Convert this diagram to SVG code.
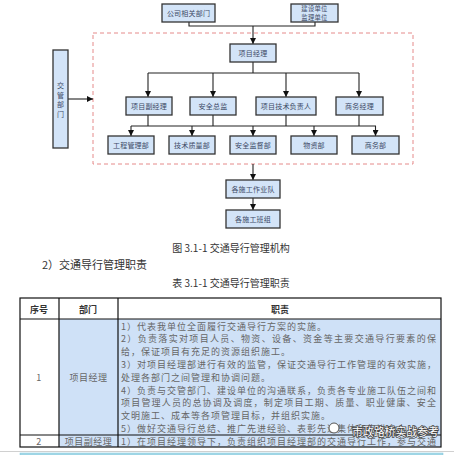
<svg xmlns="http://www.w3.org/2000/svg" width="454" height="455" viewBox="0 0 454 455">
<style>
.box{fill:#d3e4f8;stroke:#333;stroke-width:1.3}
.bt{font-family:"Noto Sans CJK SC",sans-serif;font-size:7px;fill:#3c4a66;text-anchor:middle;dominant-baseline:central;letter-spacing:0.2px}
.bs{font-family:"Noto Sans CJK SC",sans-serif;font-size:6.3px;fill:#3c4a66;text-anchor:middle;dominant-baseline:central;letter-spacing:0.3px}
.ln{fill:none;stroke:#222;stroke-width:1.1}
.cap{font-family:"Noto Sans CJK SC",sans-serif;font-size:10px;fill:#333;text-anchor:middle;dominant-baseline:central}
.tt{font-family:"Noto Sans CJK SC",sans-serif;font-size:9px;fill:#666;dominant-baseline:central;letter-spacing:1px}
.tc{font-family:"Noto Sans CJK SC",sans-serif;font-size:9px;fill:#666;text-anchor:middle;dominant-baseline:central;letter-spacing:0.5px}
.th{font-family:"Noto Sans CJK SC",sans-serif;font-size:9px;fill:#333;font-weight:bold;text-anchor:middle;dominant-baseline:central}
.tl{stroke:#111;stroke-width:1.2;fill:none}
</style>
<defs>
<marker id="ar" markerUnits="userSpaceOnUse" markerWidth="6" markerHeight="6" refX="6" refY="3" orient="auto"><path d="M0,0 L6,3 L0,6 z" fill="#111"/></marker>
</defs>
<rect width="454" height="455" fill="#fff"/>

<!-- dashed boundary -->
<rect x="93" y="33" width="320" height="131" fill="none" stroke="#e58a8a" stroke-width="1" stroke-dasharray="4,3"/>

<g id="connectors">
<path class="ln" d="M189,22 V26 H315 V22"/>
<path class="ln" d="M253,26 V44" marker-end="url(#ar)"/>
<path class="ln" d="M68,99 H93" marker-end="url(#ar)"/>
<path class="ln" d="M253,62 V73" stroke-width="1.6"/>
<path class="ln" d="M148,73 H359" stroke-width="1.4"/>
<path class="ln" d="M148,73 V97" marker-end="url(#ar)"/>
<path class="ln" d="M213,73 V97" marker-end="url(#ar)"/>
<path class="ln" d="M286,73 V97" marker-end="url(#ar)"/>
<path class="ln" d="M359,73 V97" marker-end="url(#ar)"/>
<path class="ln" d="M148,115 V126 M213,115 V126 M286,115 V126 M359,115 V126"/>
<path class="ln" d="M131,126 H376"/>
<path class="ln" d="M131,126 V136" marker-end="url(#ar)"/>
<path class="ln" d="M192,126 V136" marker-end="url(#ar)"/>
<path class="ln" d="M253,126 V136" marker-end="url(#ar)"/>
<path class="ln" d="M314,126 V136" marker-end="url(#ar)"/>
<path class="ln" d="M375.5,126 V136" marker-end="url(#ar)"/>
<path class="ln" d="M253,164 V180" marker-end="url(#ar)"/>
<path class="ln" d="M253,198 V210" marker-end="url(#ar)"/>
</g>

<g id="n-gongsi"><rect class="box" x="162" y="4" width="53" height="18"/><text class="bt" x="188.5" y="13">公司相关部门</text></g>
<g id="n-jianshe"><rect class="box" x="291" y="4" width="47" height="18"/><text class="bs" x="314.5" y="8.4">建设单位</text><text class="bs" x="314.5" y="17.6">监理单位</text></g>
<g id="n-xmjl"><rect class="box" x="230" y="44" width="46" height="18"/><text class="bt" x="253" y="53">项目经理</text></g>
<g id="n-jiaoguan"><rect class="box" x="53" y="50" width="15" height="98"/>
<text class="bt" x="60.5" y="85">交</text><text class="bt" x="60.5" y="94.5">管</text><text class="bt" x="60.5" y="104">部</text><text class="bt" x="60.5" y="113.5">门</text></g>

<g id="n-fujl"><rect class="box" x="126" y="97" width="46" height="18"/><text class="bt" x="149" y="106">项目副经理</text></g>
<g id="n-aqzj"><rect class="box" x="190" y="97" width="46" height="18"/><text class="bt" x="213" y="106">安全总监</text></g>
<g id="n-jsfz"><rect class="box" x="256" y="97" width="60" height="18"/><text class="bt" x="286" y="106">项目技术负责人</text></g>
<g id="n-swjl"><rect class="box" x="336" y="97" width="47" height="18"/><text class="bt" x="359.5" y="106">商务经理</text></g>

<g id="n-gcgl"><rect class="box" x="108" y="136" width="46" height="18"/><text class="bt" x="131" y="145">工程管理部</text></g>
<g id="n-jszl"><rect class="box" x="169" y="136" width="46" height="18"/><text class="bt" x="192" y="145">技术质量部</text></g>
<g id="n-aqjd"><rect class="box" x="230" y="136" width="46" height="18"/><text class="bt" x="253" y="145">安全监督部</text></g>
<g id="n-wz"><rect class="box" x="291" y="136" width="46" height="18"/><text class="bt" x="314" y="145">物资部</text></g>
<g id="n-sw"><rect class="box" x="352" y="136" width="47" height="18"/><text class="bt" x="375.5" y="145">商务部</text></g>

<g id="n-zyd"><rect class="box" x="226" y="180" width="54" height="18"/><text class="bt" x="253" y="189">各施工作业队</text></g>
<g id="n-bz"><rect class="box" x="226" y="210" width="54" height="18"/><text class="bt" x="253" y="219">各施工班组</text></g>

<text class="cap" x="231" y="247">图 3.1-1 交通导行管理机构</text>
<text x="42" y="264" font-family="'Noto Sans CJK SC',sans-serif" font-size="11" fill="#333" dominant-baseline="central">2）交通导行管理职责</text>
<text class="cap" x="231" y="282">表 3.1-1 交通导行管理职责</text>

<g id="table">
<rect x="59" y="319" width="382" height="128" fill="#cfe1f7"/>
<rect class="tl" x="20" y="298" width="421" height="149"/>
<path class="tl" d="M59,298 V447 M118,298 V447 M20,319 H441 M20,435 H441"/>
<text class="th" x="39" y="309">序号</text>
<text class="th" x="88" y="309">部门</text>
<text class="th" x="280" y="309">职责</text>
<text class="tc" x="39" y="377" fill="#333">1</text>
<text class="tc" x="88.5" y="377">项目经理</text>
<text class="tt" x="121" y="326">1）代表我单位全面履行交通导行方案的实施。</text>
<text class="tt" x="121" y="338.8" textLength="316" lengthAdjust="spacing">2）负责落实对项目人员、物资、设备、资金等主要交通导行要素的保</text>
<text class="tt" x="121" y="351.6">给，保证项目有充足的资源组织施工。</text>
<text class="tt" x="121" y="364.4" textLength="316" lengthAdjust="spacing">3）对项目经理部进行有效的监管，保证交通导行工作管理的有效实施，</text>
<text class="tt" x="121" y="377.2">处理各部门之间管理和协调问题。</text>
<text class="tt" x="121" y="390" textLength="316" lengthAdjust="spacing">4）负责与交管部门、建设单位的沟通联系，负责各专业施工队伍之间和</text>
<text class="tt" x="121" y="402.8" textLength="316" lengthAdjust="spacing">项目管理人员的总协调及调度，制定项目工期、质量、职业健康、安全</text>
<text class="tt" x="121" y="415.6">文明施工、成本等各项管理目标，并组织实施。</text>
<text class="tt" x="121" y="428.4">5）做好交通导行总结、推广先进经验、表彰先进集体和先进个人。</text>
<text class="tc" x="39" y="441" fill="#333">2</text>
<text class="tc" x="88.5" y="441">项目副经理</text>
<text class="tt" x="121" y="441" textLength="316" lengthAdjust="spacing">1）在项目经理领导下，负责组织项目经理部的交通导行工作，参与交通</text>
</g>

<g id="watermark">
<circle cx="334" cy="428" r="5" fill="#fff" stroke="#555" stroke-width="1"/>
<text x="352" y="431" font-family="'Noto Sans CJK SC',sans-serif" font-size="11" fill="#fff" stroke="#444" stroke-width="1.6" paint-order="stroke" dominant-baseline="central" textLength="87" lengthAdjust="spacingAndGlyphs">市政路桥实战参考</text>
</g>

<line x1="0" y1="451.5" x2="454" y2="451.5" stroke="#d0d0d0" stroke-width="1"/>
<rect x="20" y="453" width="423" height="2" fill="#a9dbe9" stroke="#7cc3db" stroke-width="0.5"/>
</svg>
